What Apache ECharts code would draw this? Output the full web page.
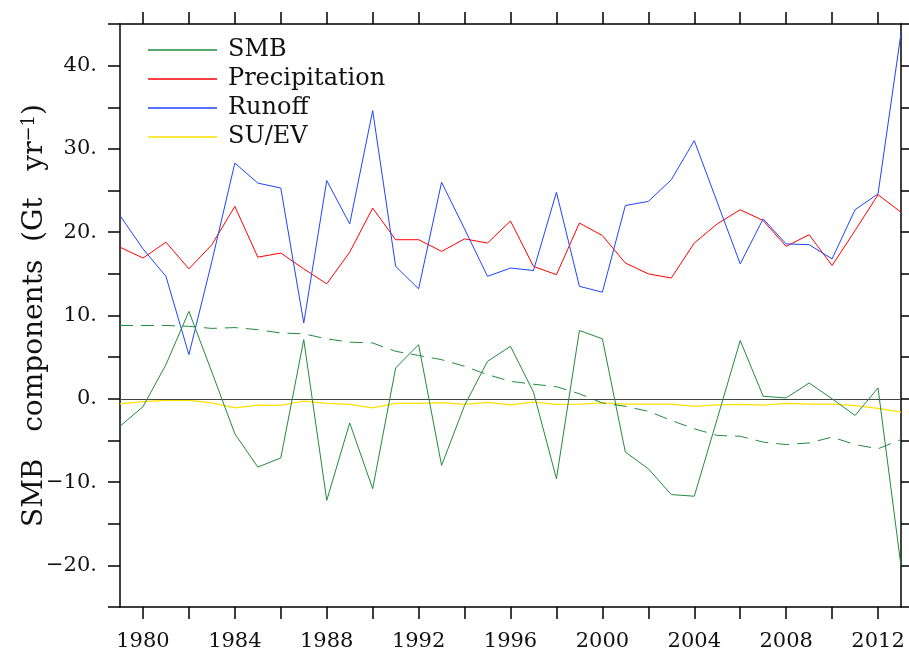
<!DOCTYPE html>
<html>
<head>
<meta charset="utf-8">
<script src="https://cdn.jsdelivr.net/npm/echarts@6/dist/echarts.min.js"></script>
<style>html,body{margin:0;padding:0;background:#fff}#c{width:909px;height:652px}</style>
</head>
<body>
<div id="c"></div>
<script>
const years = [];
for (let y = 1979; y <= 2013; y++) years.push(String(y));

const smb = [-3.3, -0.95, 4.1, 10.5, 3.2, -4.2, -8.2, -7.1, 7.1, -12.2, -2.9, -10.8, 3.7, 6.5, -8.0, -0.8, 4.5, 6.3,
  0.8, -9.6, 8.2, 7.2, -6.4, -8.4, -11.5, -11.7, -2.4, 7.0, 0.3, 0.1, 1.9, 0.0, -2.0, 1.3, -20.1];
const smbTrend = [8.8, 8.8, 8.8, 8.7, 8.45, 8.55, 8.3, 7.9, 7.8, 7.2, 6.8, 6.7, 5.7, 5.2, 4.7, 3.9, 2.9, 2.1,
  1.75, 1.45, 0.6, -0.5, -0.9, -1.5, -2.6, -3.6, -4.4, -4.5, -5.2, -5.5, -5.3, -4.6, -5.5, -6.0, -4.9];
const precip = [18.2, 16.9, 18.8, 15.6, 18.5, 23.1, 17.0, 17.5, 15.6, 13.8, 17.6, 22.9, 19.1, 19.1, 17.7, 19.2, 18.7, 21.35,
  15.9, 14.9, 21.1, 19.6, 16.3, 15.0, 14.5, 18.7, 21.0, 22.7, 21.4, 18.3, 19.7, 16.0, 20.2, 24.5, 22.4];
const runoff = [22.0, 18.0, 14.7, 5.3, 16.5, 28.3, 25.9, 25.3, 9.1, 26.2, 21.0, 34.6, 15.9, 13.2, 26.0, 20.4, 14.7, 15.7,
  15.4, 24.8, 13.5, 12.8, 23.2, 23.7, 26.3, 31.0, 23.6, 16.2, 21.6, 18.6, 18.5, 16.8, 22.7, 24.6, 43.9];
const suev = [-0.6, -0.35, -0.2, -0.2, -0.5, -1.1, -0.75, -0.8, -0.27, -0.55, -0.67, -1.1, -0.55, -0.55, -0.47, -0.67, -0.43, -0.73,
  -0.4, -0.67, -0.63, -0.5, -0.63, -0.63, -0.63, -0.9, -0.72, -0.67, -0.75, -0.55, -0.63, -0.63, -0.83, -1.15, -1.6];
const yTickLabels = [-20, -10, 0, 10, 20, 30, 40];

const FONT = 'DejaVu Serif';
const fmtY = v => yTickLabels.indexOf(v) >= 0 ? (v < 0 ? '\u2212' + (-v) : String(v)) + '.' : '';

const axisLineStyle = { color: '#000', width: 1.5 };
const tickStyle = { color: '#000', width: 1.5 };
const chart = echarts.init(document.getElementById('c'), null, { renderer: 'canvas' });
chart.setOption({
  animation: false,
  backgroundColor: '#fff',
  grid: { left: 120, right: 8, top: 24, bottom: 43, containLabel: false },
  legend: {
    data: ['SMB', 'Precipitation', 'Runoff', 'SU/EV'],
    orient: 'vertical',
    left: 143, top: 33,
    icon: 'rect',
    itemWidth: 69, itemHeight: 1.3, itemGap: 5,
    textStyle: { fontFamily: FONT, fontSize: 24, color: '#111', padding: [0, 0, 0, 6] }
  },
  xAxis: [{
    type: 'category', data: years, boundaryGap: false, position: 'bottom',
    axisLine: { onZero: false, lineStyle: axisLineStyle },
    axisTick: { inside: false, length: 12, interval: (i, v) => (+v) % 2 === 0, lineStyle: tickStyle },
    axisLabel: { interval: (i, v) => (+v) % 4 === 0, fontFamily: FONT, fontSize: 21, color: '#111', margin: 24 },
    splitLine: { show: false }
  }, {
    type: 'category', data: years, boundaryGap: false, position: 'top',
    axisLine: { onZero: false, lineStyle: axisLineStyle },
    axisTick: { inside: false, length: 12, interval: (i, v) => (+v) % 2 === 0, lineStyle: tickStyle },
    axisLabel: { show: false },
    splitLine: { show: false }
  }],
  yAxis: [{
    type: 'value', min: -25, max: 45, interval: 5, position: 'left',
    axisLine: { show: true, onZero: false, lineStyle: axisLineStyle },
    axisTick: { show: true, inside: false, length: 12, lineStyle: tickStyle },
    axisLabel: { formatter: fmtY, fontFamily: FONT, fontSize: 21, color: '#111', margin: 23, showMinLabel: true, showMaxLabel: true },
    splitLine: { show: false },
    name: '{a|SMB   components  (Gt   yr}{s|\u22121}{a|)}',
    nameLocation: 'middle', nameRotate: 90, nameGap: 71, nameMoveOverlap: false,
    nameTextStyle: {
      rich: {
        a: { fontFamily: FONT, fontSize: 28, color: '#111' },
        s: { fontFamily: FONT, fontSize: 18, color: '#111', verticalAlign: 'top', padding: [0, 0, 11, 0] }
      }
    }
  }, {
    type: 'value', min: -25, max: 45, interval: 5, position: 'right',
    axisLine: { show: true, onZero: false, lineStyle: axisLineStyle },
    axisTick: { show: true, inside: false, length: 12, lineStyle: tickStyle },
    axisLabel: { show: false },
    splitLine: { show: false }
  }],
  series: [{
    name: 'SMB', type: 'line', data: smb, symbol: 'none', z: 5,
    lineStyle: { color: '#228b3c', width: 1 }, itemStyle: { color: '#228b3c' },
    markLine: {
      silent: true, symbol: 'none', label: { show: false },
      lineStyle: { color: '#444', width: 1.2, type: 'solid' },
      data: [{ yAxis: 0 }]
    }
  }, {
    name: 'SMB trend', type: 'line', data: smbTrend, symbol: 'none', z: 4,
    lineStyle: { color: '#228b3c', width: 1, type: [13, 8] }, itemStyle: { color: '#228b3c' }
  }, {
    name: 'Precipitation', type: 'line', data: precip, symbol: 'none', z: 4,
    lineStyle: { color: '#ff0000', width: 1 }, itemStyle: { color: '#ff0000' }
  }, {
    name: 'Runoff', type: 'line', data: runoff, symbol: 'none', z: 4,
    lineStyle: { color: '#1e44ff', width: 1 }, itemStyle: { color: '#1e44ff' }
  }, {
    name: 'SU/EV', type: 'line', data: suev, symbol: 'none', z: 3,
    lineStyle: { color: '#ffe000', width: 1.2 }, itemStyle: { color: '#ffe000' }
  }]
});
</script>
</body>
</html>
